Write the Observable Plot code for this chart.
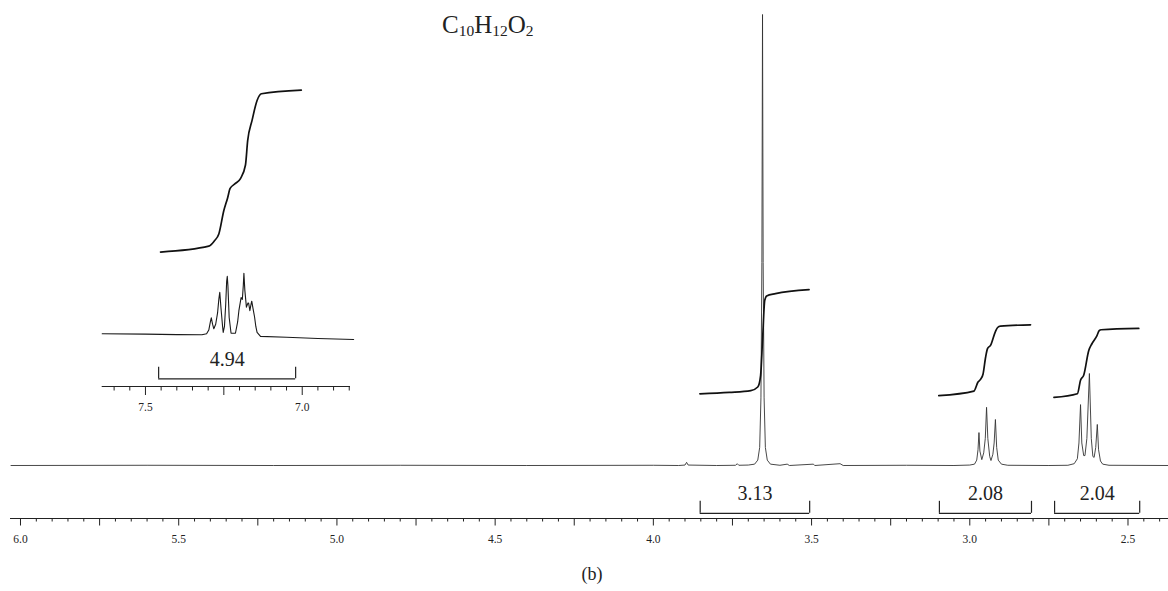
<!DOCTYPE html>
<html>
<head>
<meta charset="utf-8">
<script src="https://cdn.jsdelivr.net/npm/d3@7"></script>
<script src="https://cdn.jsdelivr.net/npm/@observablehq/plot@0.6"></script>
<style>
  html, body { margin: 0; padding: 0; background: #fff; }
  #wrap { position: relative; width: 1168px; height: 591px; font-family: "Liberation Serif", "Times New Roman", serif; color: #222; }
  #wrap svg { position: absolute; left: 0; top: 0; }
  #title { position: absolute; left: 442px; top: 12px; font-size: 25px; line-height: 1; white-space: nowrap; }
  #title sub { font-size: 0.62em; vertical-align: -0.18em; line-height: 0; }
  #caption { position: absolute; left: 592px; top: 565px; transform: translateX(-50%); font-size: 18px; line-height: 1; }
</style>
</head>
<body>
<div id="wrap">
  <div id="main"></div>
  <div id="inset"></div>
  <div id="title">C<sub>10</sub>H<sub>12</sub>O<sub>2</sub></div>
  <div id="caption">(b)</div>
</div>
<script>
// ---------- main spectrum (ppm, relative intensity) ----------
const mainPpm = [6.030, 5.60, 5.20, 4.80, 4.40, 4.00, 3.920, 3.900, 3.895, 3.890, 3.800, 3.740, 3.735, 3.730,
  3.700, 3.680, 3.670, 3.664, 3.660, 3.657, 3.655, 3.653, 3.650, 3.646, 3.640, 3.630, 3.600, 3.577, 3.570,
  3.494, 3.490, 3.410, 3.400, 3.200, 3.050,
  3.000, 2.985, 2.978, 2.974, 2.971, 2.968, 2.962, 2.956, 2.951, 2.947, 2.943, 2.937, 2.933, 2.927, 2.923,
  2.919, 2.915, 2.910, 2.900, 2.880, 2.750,
  2.690, 2.670, 2.660, 2.655, 2.650, 2.646, 2.640, 2.636, 2.630, 2.622, 2.616, 2.611, 2.607, 2.602, 2.597,
  2.593, 2.587, 2.580, 2.560, 2.372];
const mainIntensity = [0, 0.05, 0, 0.05, 0, 0.05, 0, 0.1, 0.7, 0.1, 0, 0.05, 0.4, 0.05,
  0.1, 0.3, 1.2, 4, 15, 45, 100, 45, 15, 4, 1.2, 0.3, 0.05, 0.3, 0,
  0.3, 0, 0.4, 0, 0.05, 0,
  0.1, 0.3, 1.2, 3.5, 7.3, 3.2, 1.3, 2.8, 6, 12.9, 6, 2, 1.1, 2.5, 5,
  10.2, 4, 1.2, 0.3, 0.05, 0,
  0.05, 0.4, 1.5, 5, 13.5, 5, 2.2, 2.2, 6, 20.4, 6, 2, 1.8, 4, 9.1,
  3.5, 1, 0.3, 0.05, 0];

// ---------- integral traces (ppm, trace level) ----------
const intSingletPpm = [3.853, 3.760, 3.692, 3.670, 3.661, 3.655, 3.648, 3.642, 3.614, 3.508];
const intSingletVal = [15.9, 16.2, 16.6, 17.4, 20.0, 27.7, 36.6, 37.6, 38.1, 39.0];
const intT1Ppm = [3.098, 2.987, 2.974, 2.966, 2.958, 2.950, 2.944, 2.934, 2.919, 2.912, 2.903, 2.808];
const intT1Val = [15.5, 16.5, 18.5, 19.1, 20.3, 24.0, 25.9, 26.7, 29.7, 30.6, 30.9, 31.2];
const intT2Ppm = [2.734, 2.660, 2.650, 2.640, 2.624, 2.614, 2.598, 2.591, 2.585, 2.466];
const intT2Val = [15.1, 15.9, 18.9, 20.0, 25.5, 27.0, 28.8, 29.9, 30.1, 30.4];

// ---------- integration brackets ----------
const integralLabels = ["3.13", "2.08", "2.04"];
const integralFrom = [3.852, 3.096, 2.732];
const integralTo = [3.506, 2.805, 2.463];

// ---------- main axis ticks ----------
const tickLabels = [6.0, 5.5, 5.0, 4.5, 4.0, 3.5, 3.0, 2.5];
const majorTicks = [6.0, 5.75, 5.5, 5.25, 5.0, 4.75, 4.5, 4.25, 4.0, 3.75, 3.5, 3.25, 3.0, 2.75, 2.5];
const minorTicks = d3.range(120, 47, -1).filter(i => i % 5 !== 0).map(i => i / 20);

// ---------- inset: aromatic region ----------
const insetPpm = [7.638, 7.50, 7.40, 7.320, 7.305, 7.298, 7.293, 7.290, 7.286, 7.282, 7.276, 7.270, 7.266,
  7.263, 7.259, 7.254, 7.252, 7.248, 7.244, 7.241, 7.239, 7.237, 7.233, 7.227, 7.213, 7.206, 7.202, 7.195,
  7.191, 7.188, 7.186, 7.183, 7.178, 7.173, 7.171, 7.167, 7.163, 7.161, 7.157, 7.152, 7.148, 7.144, 7.133,
  7.05, 6.95, 6.836];
const insetIntensity = [0.38, 0.3, 0.2, 0.15, 0.4, 1.2, 3, 3.9, 2.5, 1.5, 2.5, 5, 8,
  9.6, 6, 2, 0.7, 2, 7, 12, 13.1, 11, 4, 0.5, 0.5, 3, 5.5, 8.4,
  8, 11, 13.8, 10, 6.3, 7.2, 7.2, 5.5, 7, 7.6, 6, 4.1, 2, 0.7, -0.2,
  -0.4, -0.65, -0.9];
const insetIntPpm = [7.452, 7.298, 7.280, 7.266, 7.250, 7.238, 7.230, 7.215, 7.197, 7.181, 7.174, 7.160, 7.144, 7.130, 7.003];
const insetIntVal = [18.5, 19.8, 21.0, 22.5, 27.7, 30.5, 32.6, 33.6, 34.8, 37.8, 43.2, 47.7, 52.1, 53.6, 54.4];
const insetLabel = "4.94";
const insetFrom = 7.458;
const insetTo = 7.021;
const insetTickLabels = [7.5, 7.0];
const insetMajorTicks = [7.5, 7.25, 7.0];
const insetMinorTicks = [7.6, 7.55, 7.45, 7.4, 7.35, 7.3, 7.2, 7.15, 7.1, 7.05, 6.95, 6.9, 6.85];

// ---------- build tables ----------
const zip = (xs, ys, extra = {}) => xs.map((x, i) => ({x, y: ys[i], ...extra}));
const spectrum = zip(mainPpm, mainIntensity);
const integrals = [
  ...zip(intSingletPpm, intSingletVal, {g: "s"}),
  ...zip(intT1Ppm, intT1Val, {g: "t1"}),
  ...zip(intT2Ppm, intT2Val, {g: "t2"})
];
const brackets = integralLabels.map((label, i) => ({label, from: integralFrom[i], to: integralTo[i]}));

const axisLevel = -11.75;
const bracketTop = -7.94, bracketBottom = -10.6, bracketText = -6.23;
const ink = "#222";

const main = Plot.plot({
  width: 1168, height: 555,
  marginLeft: 10, marginRight: 0, marginTop: 14, marginBottom: 37,
  x: {domain: [6.0316, 2.372], axis: null},
  y: {domain: [axisLevel, 100], axis: null},
  style: {background: "transparent", fontFamily: "Liberation Serif, serif", fontSize: "11.5px", color: ink},
  marks: [
    Plot.ruleY([axisLevel], {stroke: ink, strokeWidth: 1}),
    Plot.axisX({ticks: minorTicks, tickSize: 3.5, tickFormat: () => "", anchor: "bottom", label: null, stroke: ink}),
    Plot.axisX({ticks: majorTicks, tickSize: 7.5, tickPadding: 8.5, anchor: "bottom", label: null, stroke: ink,
      tickFormat: d => tickLabels.some(t => Math.abs(t - d) < 1e-9) ? d.toFixed(1) : ""}),
    Plot.line(spectrum, {x: "x", y: "y", stroke: "#333", strokeWidth: 0.9}),
    Plot.line(integrals, {x: "x", y: "y", z: "g", stroke: "#111", strokeWidth: 1.7, curve: "monotone-x"}),
    Plot.ruleY(brackets, {x1: "from", x2: "to", y: bracketBottom, stroke: ink, strokeWidth: 1.2}),
    Plot.ruleX(brackets, {x: "from", y1: bracketTop, y2: bracketBottom, stroke: ink, strokeWidth: 1.2}),
    Plot.ruleX(brackets, {x: "to", y1: bracketTop, y2: bracketBottom, stroke: ink, strokeWidth: 1.2}),
    Plot.text(brackets, {x: d => (d.from + d.to) / 2, y: bracketText, text: "label", fontSize: 20, lineAnchor: "middle", fill: ink})
  ]
});
document.getElementById("main").appendChild(main);

const insetAxisLevel = -11.31;
const inset = Plot.plot({
  width: 360, height: 420,
  marginLeft: 101.7, marginRight: 10, marginTop: 0, marginBottom: 34,
  x: {domain: [7.638, 6.846], axis: null},
  y: {domain: [insetAxisLevel, 74.28], axis: null},
  style: {background: "transparent", fontFamily: "Liberation Serif, serif", fontSize: "11.5px", color: ink},
  marks: [
    Plot.ruleY([insetAxisLevel], {stroke: ink, strokeWidth: 1}),
    Plot.axisX({ticks: insetMinorTicks, tickSize: 4.5, tickFormat: () => "", anchor: "bottom", label: null, stroke: ink}),
    Plot.axisX({ticks: insetMajorTicks, tickSize: 9, tickPadding: 7.5, anchor: "bottom", label: null, stroke: ink,
      tickFormat: d => insetTickLabels.some(t => Math.abs(t - d) < 1e-9) ? d.toFixed(1) : ""}),
    Plot.line(zip(insetPpm, insetIntensity), {x: "x", y: "y", stroke: "#1a1a1a", strokeWidth: 1.1}),
    Plot.line(zip(insetIntPpm, insetIntVal), {x: "x", y: "y", stroke: "#111", strokeWidth: 1.7, curve: "monotone-x"}),
    Plot.ruleY([0], {x1: insetFrom, x2: insetTo, y: -9.6, stroke: ink, strokeWidth: 1.2}),
    Plot.ruleX([insetFrom, insetTo], {y1: -7.03, y2: -9.6, stroke: ink, strokeWidth: 1.2}),
    Plot.text([insetLabel], {x: (insetFrom + insetTo) / 2, y: -5.45, text: d => d, fontSize: 20, lineAnchor: "middle", fill: ink})
  ]
});
document.getElementById("inset").appendChild(inset);
</script>
</body>
</html>
